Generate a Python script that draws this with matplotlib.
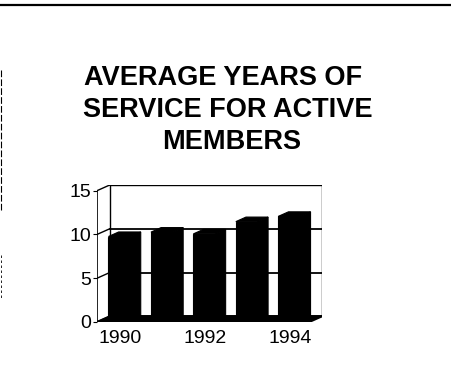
import numpy as np
import matplotlib
matplotlib.use('Agg')
from matplotlib import pyplot as plt
from matplotlib.patches import Polygon, Rectangle
from matplotlib.lines import Line2D

# data
years = ['1990', '1991', '1992', '1993', '1994']
avg_years = [9.7, 10.2, 10.0, 11.4, 12.0]
shown_labels = ['1990', '', '1992', '', '1994']
y_ticks = [0, 5, 10, 15]
title_lines = ['AVERAGE YEARS OF', 'SERVICE FOR ACTIVE', 'MEMBERS']

plt.rcParams['font.family'] = ['Liberation Sans', 'DejaVu Sans']

fig = plt.figure(figsize=(4.52, 3.90), dpi=100)
W, H = 452, 390

# title, one text per line (centres drift a little in the scan)
for line, (cx, base) in zip(title_lines, [(223, 85), (228, 117), (232, 149)]):
    fig.text(cx / W, 1 - base / H, line, ha='center', va='baseline',
             fontsize=19.5, fontweight='bold')

# scan border bits
fig.add_artist(Line2D([0, 1], [1 - 5 / H, 1 - 5 / H], color='black', lw=1.6))
fig.add_artist(Line2D([1.5 / W, 1.5 / W], [1 - 70 / H, 1 - 210 / H],
                      color='black', lw=0.8, ls=(0, (6, 2))))
fig.add_artist(Line2D([1.5 / W, 1.5 / W], [1 - 255 / H, 1 - 300 / H],
                      color='black', lw=0.6, ls=(0, (3, 3))))

# axes placed over the front plane
ax = fig.add_axes([97 / W, 1 - 322 / H, (322 - 97) / W, (322 - 185) / H])
n = len(years)
x0, x1 = -0.5, n - 0.5
ymax = 15
dx, dy = 0.30, 0.65
ax.set_xlim(x0, x1 + dx)
ax.set_ylim(0, ymax + dy)
for s in ax.spines.values():
    s.set_visible(False)

# walls and floor
ax.add_patch(Rectangle((x0 + dx, dy), x1 - x0, ymax, fill=False,
                       edgecolor='black', lw=1.0))
ax.add_patch(Polygon([(x0, 0), (x1, 0), (x1 + dx, dy), (x0 + dx, dy)],
                     closed=True, facecolor='black', edgecolor='black', lw=1.5))
ax.plot([x0, x0], [0, ymax], color='black', lw=0.6)
for v in y_ticks:
    ax.plot([x0, x0 + dx], [v, v + dy], color='black', lw=1.0)
    ax.plot([x0 + dx, x1 + dx], [v + dy, v + dy], color='black', lw=1.3)

# 3d bars: front face with top and side faces
xs = np.arange(n)
w = 0.52
f0, f1 = 0.1, 0.9
for x, v in zip(xs, avg_years):
    l, r = x - w / 2 + f0 * dx, x + w / 2 + f0 * dx
    b, t = f0 * dy, v + f0 * dy
    ddx, ddy = (f1 - f0) * dx, (f1 - f0) * dy
    ax.add_patch(Rectangle((l, b), r - l, t - b, facecolor='black', edgecolor='black', lw=0.8))
    ax.add_patch(Polygon([(l, t), (r, t), (r + ddx, t + ddy), (l + ddx, t + ddy)],
                         closed=True, facecolor='black', edgecolor='black', lw=0.8))
    ax.add_patch(Polygon([(r, b), (r + ddx, b + ddy), (r + ddx, t + ddy), (r, t)],
                         closed=True, facecolor='black', edgecolor='black', lw=0.8))

ax.set_yticks(y_ticks)
ax.set_yticklabels([str(v) for v in y_ticks], fontsize=14)
ax.tick_params(axis='y', length=3, width=0.8, pad=1)
ax.set_xticks(xs + 0.05)
ax.set_xticklabels(shown_labels, fontsize=14)
ax.tick_params(axis='x', length=0, pad=6)

fig.savefig('out.png', dpi=100, facecolor='white')
